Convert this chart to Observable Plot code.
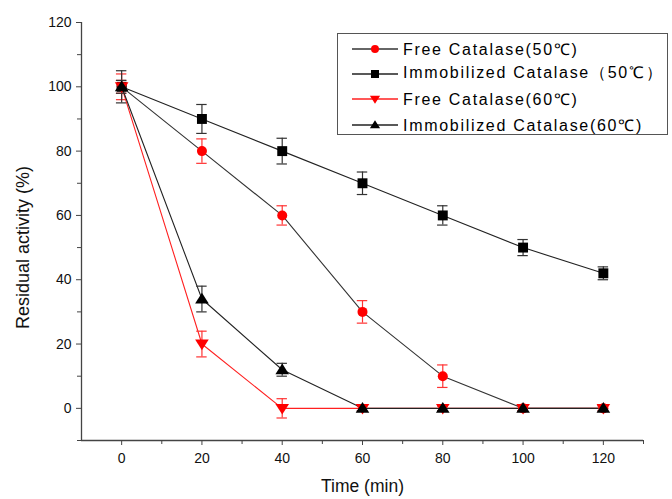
<!DOCTYPE html>
<html><head><meta charset="utf-8">
<script src="https://cdn.jsdelivr.net/npm/d3@7"></script>
<script src="https://cdn.jsdelivr.net/npm/@observablehq/plot@0.6"></script>
<style>
body{margin:0;background:#fff;font-family:"Liberation Sans",Arial,sans-serif;}
#wrap{position:relative;width:672px;height:499px;}
#legend{position:absolute;left:337px;top:33px;width:331px;height:102px;border:1px solid #555;box-sizing:border-box;background:#fff;padding-top:2px;}
.row{display:flex;align-items:center;height:25.3px;font-size:16px;letter-spacing:1.7px;color:#000;white-space:nowrap;}
.row svg{margin-left:14px;margin-right:5px;flex:none;}
</style></head>
<body><div id="wrap"><div id="legend"></div></div>
<script>
const times = [0, 20, 40, 60, 80, 100, 120];
const seriesNames = ["Free Catalase(50℃)", "Immobilized Catalase（50℃）", "Free Catalase(60℃)", "Immobilized Catalase(60℃)"];
const free50 = [100, 80, 60, 30, 10, 0, 0];
const free50Err = [4, 3.8, 3, 3.5, 3.5, 0.8, 0.8];
const immob50 = [100, 90, 80, 70, 60, 50, 42];
const immob50Err = [5, 4.5, 4, 3.5, 3, 2.5, 2];
const free60 = [100, 20, 0, 0, 0, 0, 0];
const free60Err = [2, 4, 3, 0.8, 0.8, 0.8, 0.8];
const immob60 = [100, 34, 12, 0, 0, 0, 0];
const immob60Err = [2, 4, 2, 0.8, 0.8, 0.8, 0.8];
const yTicks = [0, 20, 40, 60, 80, 100, 120];
const yMinor = [-10, 10, 30, 50, 70, 90, 110];
const xTicks = [0, 20, 40, 60, 80, 100, 120];
const xMinor = [10, 30, 50, 70, 90, 110, 130];

const triDown = {draw(ctx, size){const h = Math.sqrt(size*4/Math.sqrt(3))/2; const w=h*1.15; ctx.moveTo(-w, -h*0.75); ctx.lineTo(w, -h*0.75); ctx.lineTo(0, h*1.05); ctx.closePath();}};
const triUp = {draw(ctx, size){const h = Math.sqrt(size*4/Math.sqrt(3))/2; const w=h*1.15; ctx.moveTo(-w, h*0.75); ctx.lineTo(w, h*0.75); ctx.lineTo(0, -h*1.05); ctx.closePath();}};

const styles = [
  {vals: free50, err: free50Err, line: "#333", fill: "#ff0000", errColor: "#ff3333", symbol: "circle", r: 5, legSize: 50},
  {vals: immob50, err: immob50Err, line: "#222", fill: "#000", errColor: "#333", symbol: "square", r: 5.6, legSize: 64},
  {vals: free60, err: free60Err, line: "#ff2020", fill: "#ff0000", errColor: "#ff3333", symbol: triDown, r: 4.4, legSize: 34},
  {vals: immob60, err: immob60Err, line: "#222", fill: "#000", errColor: "#333", symbol: triUp, r: 4.4, legSize: 34}
];
const data = styles.map((s, i) => times.map((t, j) => ({t, v: s.vals[j], e: s.err[j], s: i})));

const marks = [];
styles.forEach((s, i) => {
  const d = data[i];
  marks.push(Plot.line(d, {x: "t", y: "v", stroke: s.line, strokeWidth: 1.1}));
  marks.push(Plot.ruleX(d, {x: "t", y1: q => q.v - q.e, y2: q => q.v + q.e, stroke: s.errColor, strokeWidth: 1.2}));
  marks.push(Plot.ruleY(d, {y: q => q.v + q.e, x1: q => q.t - 1.3, x2: q => q.t + 1.3, stroke: s.errColor, strokeWidth: 1.2}));
  marks.push(Plot.ruleY(d, {y: q => q.v - q.e, x1: q => q.t - 1.3, x2: q => q.t + 1.3, stroke: s.errColor, strokeWidth: 1.2}));
});
styles.forEach((s, i) => {
  marks.push(Plot.dot(data[i], {x: "t", y: "v", symbol: () => s.symbol, r: s.r, fill: s.fill, stroke: "none"}));
});

const chart = Plot.plot({
  width: 672, height: 499,
  marginLeft: 81, marginRight: 29, marginTop: 22, marginBottom: 59,
  style: {fontFamily: "'Liberation Sans', Arial, sans-serif", background: "transparent", overflow: "visible"},
  x: {domain: [-10, 130]},
  y: {domain: [-10, 120]},
  symbol: {type: "identity"},
  marks: [
    Plot.ruleX([-10], {stroke: "#444", strokeWidth: 1.3}),
    Plot.ruleY([-10], {stroke: "#444", strokeWidth: 1.3}),
    Plot.axisY({ticks: yTicks, tickSize: 5, tickPadding: 5, fontSize: 14, label: null, stroke: "#444", fill: "#111"}),
    Plot.axisY({ticks: yMinor, tickSize: 4, text: null, label: null, stroke: "#444"}),
    Plot.axisX({ticks: xTicks, tickSize: 5, tickPadding: 8, fontSize: 14, label: null, stroke: "#444", fill: "#111"}),
    Plot.axisX({ticks: xMinor, tickSize: 4, text: null, label: null, stroke: "#444"}),
    Plot.text(["Residual activity (%)"], {frameAnchor: "left", textAnchor: "middle", rotate: -90, dx: -58, dy: 16, fontSize: 18, fill: "#111", letterSpacing: 0.3}),
    Plot.text(["Time (min)"], {frameAnchor: "bottom", dy: 51, fontSize: 17.5, fill: "#111", letterSpacing: 1.8}),
    ...marks
  ]
});
chart.style.position = "absolute";
chart.style.left = "0"; chart.style.top = "0";
document.getElementById("wrap").prepend(chart);

const legend = document.getElementById("legend");
styles.forEach((s, i) => {
  const row = document.createElement("div");
  row.className = "row";
  const svg = d3.create("svg").attr("width", 46).attr("height", 14);
  svg.append("line").attr("x1", 0).attr("x2", 46).attr("y1", 7).attr("y2", 7).attr("stroke", s.line).attr("stroke-width", 1.3);
  const type = typeof s.symbol === "string" ? (s.symbol === "circle" ? d3.symbolCircle : d3.symbolSquare) : s.symbol;
  svg.append("path").attr("transform", "translate(23,7)").attr("d", d3.symbol(type, s.legSize)()).attr("fill", s.fill);
  row.appendChild(svg.node());
  const span = document.createElement("span");
  span.textContent = seriesNames[i];
  row.appendChild(span);
  legend.appendChild(row);
});
</script></body></html>
